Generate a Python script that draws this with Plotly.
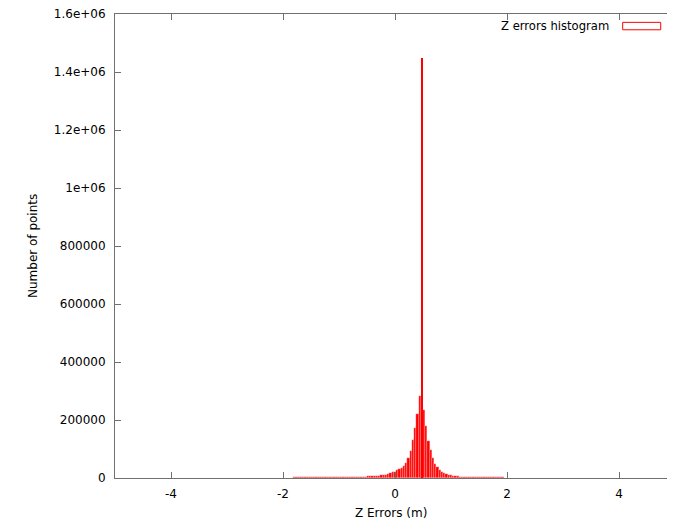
import plotly.graph_objects as go

# Histogram of Z errors (bin width 0.04 m)
bin_start = -1.80
bin_width = 0.04
counts = [
    3000, 3200, 3300, 3200, 3400, 3300, 3200, 3400, 3500, 3300, 3400, 3500, 3400, 3300, 3500, 3400, 3500, 3600, 3400, 3500, 3600,
    3600, 3700, 3700, 3800, 3800, 3900, 4000, 4100, 4200, 4400, 4600, 4900,
    5400, 5900, 6400, 6900, 7500, 8300, 9200, 10200, 11500, 13500, 16000, 19000,
    22000, 26000, 30000, 35000, 42000, 53000, 68000, 92000, 130000, 172000, 222000, 283000,
    270000, 235000, 180000, 128000, 95000, 68000, 50000, 38000, 29000, 22000, 17500, 14000, 11500, 9500, 8000, 6800, 5800,
    5000, 4500, 4200, 4000, 3800, 3700, 3600, 3600, 3500, 3500, 3400, 3400, 3500, 3300, 3400, 3300, 3200, 3300, 3200, 3000,
]
bin_centers = [round(bin_start + bin_width * i, 2) for i in range(len(counts))]

# single dominant spike
spike_x = [0.477]
spike_y = [1450000]
spike_width = 0.018

y_tickvals = [0, 200000, 400000, 600000, 800000, 1000000, 1200000, 1400000, 1600000]
y_ticktext = ["0", "200000", "400000", "600000", "800000", "1e+06", "1.2e+06", "1.4e+06", "1.6e+06"]
x_tickvals = [-4, -2, 0, 2, 4]
x_ticktext = ["-4", "-2", "0", "2", "4"]

RED = "#ff0000"
AXIS = "#707070"
FONT = "DejaVu Sans, Liberation Sans, sans-serif"

fig = go.Figure()
fig.add_trace(go.Bar(x=bin_centers, y=counts, width=bin_width,
                     marker=dict(color=RED, line=dict(width=0.4, color="rgba(255,255,255,0.6)")),
                     showlegend=False))
fig.add_trace(go.Bar(x=spike_x, y=spike_y, width=spike_width,
                     marker=dict(color=RED, line=dict(width=0)), showlegend=False))

# page body adds an 8px margin; figure sized so the page does not overflow.
# the reference frame runs past the right edge of the picture (x = 5 lies at the edge)
fig.update_layout(
    width=659, height=511,
    margin=dict(l=107, r=0, t=6, b=41),
    paper_bgcolor="white", plot_bgcolor="white",
    font=dict(family=FONT, size=12, color="black"),
    barmode="overlay", bargap=0,
    xaxis=dict(range=[-5, 4.857], tickvals=x_tickvals, ticktext=x_ticktext,
               ticks="inside", ticklen=6, tickcolor=AXIS, tickwidth=1,
               showline=True, linecolor=AXIS, linewidth=1, mirror="allticks",
               showgrid=False, zeroline=False, ticklabelstandoff=5),
    yaxis=dict(range=[0, 1600000], tickvals=y_tickvals, ticktext=y_ticktext,
               ticks="inside", ticklen=6, tickcolor=AXIS, tickwidth=1,
               showline=True, linecolor=AXIS, linewidth=1, mirror=False,
               showgrid=False, zeroline=False, ticklabelstandoff=6,
               ticklabeloverflow="allow"),
    annotations=[
        dict(text="Z errors histogram", xref="paper", yref="paper", x=0.8986, y=0.974,
             xanchor="right", yanchor="middle", showarrow=False, font=dict(size=11.6)),
        dict(text="Z Errors (m)", xref="paper", yref="paper", x=0.5, y=0, yshift=-35,
             xanchor="center", yanchor="middle", showarrow=False, font=dict(size=12)),
        dict(text="Number of points", xref="paper", yref="paper", x=0, y=0.5, xshift=-82,
             xanchor="center", yanchor="middle", textangle=-90, showarrow=False, font=dict(size=12)),
    ],
    shapes=[
        dict(type="rect", xref="paper", yref="paper", x0=0.9197, x1=0.9886, y0=0.966, y1=0.982,
             line=dict(color=RED, width=1), fillcolor="white"),
    ],
)

fig.write_html("out.html")
